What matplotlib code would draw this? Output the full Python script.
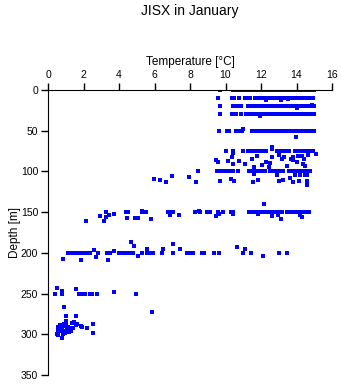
import numpy as np
import matplotlib
matplotlib.use('Agg')
import matplotlib.pyplot as plt

plt.rcParams['font.family'] = ['Liberation Sans', 'DejaVu Sans']

# temperatures (degC) observed at the standard depths (m)
t_0m = [9.7, 10.45, 10.55, 10.65, 10.75, 10.85, 11.05, 11.2, 11.3, 11.45, 11.6, 11.75, 11.9, 12.05,
        12.2, 12.3, 12.45, 12.6, 12.75, 12.95, 13.1, 13.25, 13.4, 13.55, 13.7, 13.85, 14.0, 14.15,
        14.3, 14.45, 14.6, 14.75, 14.9, 15.0]
t_10m = [9.55, 10.35, 10.5, 10.75, 11.1, 11.25, 11.4, 11.65, 11.8, 11.95, 12.1, 12.25, 12.4, 12.55,
         12.7, 12.85, 13.0, 13.15, 13.3, 13.45, 13.6, 13.75, 13.9, 14.05, 14.2, 14.35, 14.5, 14.65,
         14.8, 14.95]
t_20m = [9.7, 10.4, 10.6, 10.8, 10.9, 11.25, 11.45, 11.65, 11.8, 11.95, 12.1, 12.25, 12.4, 12.55,
         12.75, 12.9, 13.05, 13.2, 13.35, 13.5, 13.65, 13.8, 13.95, 14.1, 14.25, 14.4, 14.55, 14.7,
         14.85, 15.0]
t_30m = [9.7, 10.35, 10.6, 10.85, 11.15, 11.3, 11.5, 11.65, 11.9, 12.05, 12.2, 12.35, 12.5, 12.75,
         12.9, 13.05, 13.2, 13.35, 13.5, 13.65, 13.8, 13.95, 14.1, 14.25, 14.4, 14.55, 14.7, 14.85, 15.0]
t_50m = [9.65, 10.1, 10.2, 10.6, 10.75, 10.95, 11.5, 11.6, 11.75, 11.85, 11.95, 12.05, 12.15, 12.25,
         12.35, 12.5, 12.6, 12.75, 12.9, 13.05, 13.2, 13.35, 13.5, 13.65, 13.8, 13.95, 14.1, 14.25,
         14.4, 14.55, 14.7, 14.85, 15.0]
t_75m = [10.0, 10.45, 11.0, 11.25, 11.45, 11.55, 11.65, 11.75, 11.85, 11.95, 12.05, 12.15, 12.3,
         12.9, 13.05, 13.2, 13.35, 13.6, 13.9, 14.05, 14.2, 14.35, 14.5, 14.65, 14.8, 14.95]
t_100m = [8.47, 9.5, 9.6, 9.8, 9.9, 10.1, 10.2, 10.3, 10.4, 10.7, 11.35, 11.5, 11.65, 11.8, 11.95,
          12.1, 12.25, 12.5, 12.65, 12.8, 12.95, 13.1, 13.25, 13.55, 13.7, 13.85, 14.0, 14.15, 14.3,
          14.45, 14.6, 14.75]
t_150m = [3.29, 4.4, 4.52, 5.3, 5.52, 6.78, 6.9, 7.02, 8.3, 8.56, 8.94, 9.05, 9.13, 9.6, 9.88, 10.3,
          10.44, 11.3, 11.45, 11.6, 11.75, 11.9, 12.05, 12.2, 12.47, 12.6, 12.75, 12.9, 13.05, 13.2,
          13.45, 13.6, 13.75, 13.9, 14.05, 14.2, 14.42, 14.55, 14.7]
t_200m = [1.15, 1.25, 1.39, 1.61, 1.75, 1.9, 2.05, 2.2, 2.37, 2.83, 3.3, 3.49, 4.02, 4.13, 4.24, 4.47,
          4.6, 4.77, 5.31, 5.56, 5.7, 5.85, 5.93, 6.42, 7.06, 7.81, 7.94, 8.19, 8.69, 8.79, 9.37, 9.62,
          11.0, 11.45, 13.0, 13.48]
t_250m = [0.41, 0.81, 1.76, 1.99, 2.1, 2.37, 2.5, 2.78, 4.97]

level_depths = [0, 10, 20, 30, 50, 75, 100, 150, 200, 250]
level_temps = [t_0m, t_10m, t_20m, t_30m, t_50m, t_75m, t_100m, t_150m, t_200m, t_250m]

# off-level observations
extra_temp = [12.3, 13.1, 13.5, 14.0, 14.9, 11.95, 12.2, 11.0, 13.95, 15.1, 12.6,
              10.44, 10.38, 9.48, 9.6, 10.16, 10.78, 11.1, 11.5, 11.75, 11.6, 12.07, 12.26, 12.43,
              12.5, 12.64, 13.0, 13.3, 13.45, 13.82, 13.82, 14.05, 14.1, 14.3, 14.42, 14.38, 14.67,
              13.16, 14.46, 12.62, 12.19, 10.4, 10.76, 9.46, 13.7,
              7.96, 8.32, 9.69, 10.29, 10.5, 11.57, 11.81, 11.62, 12.99, 13.26, 13.63, 13.82, 14.16,
              14.57, 14.6, 13.9, 12.88, 14.57, 5.99, 6.29, 6.63, 7.0, 14.2, 14.5,
              2.16, 2.95, 3.17, 3.29, 3.46, 3.72, 4.45, 4.9, 5.05, 5.3, 5.8, 6.87, 7.4, 8.52, 9.46,
              9.65, 10.4, 11.85, 12.64, 12.94, 13.15, 14.2, 14.31,
              0.86, 1.84, 2.61, 2.7, 3.4, 3.72, 4.68, 4.86, 5.09, 5.6, 6.46, 7.06, 7.44, 10.67, 11.08,
              12.13,
              0.52, 0.81, 1.6, 3.74, 0.92, 5.88, 1.03, 1.6,
              0.55, 0.58, 0.68, 0.71, 0.8, 0.92, 1.03, 1.03, 1.03, 1.15, 1.25, 1.37, 1.45, 1.65, 1.84,
              1.9, 2.22, 2.52, 2.55, 0.52, 0.55, 0.81, 0.86, 0.94, 1.0, 1.2, 1.31, 1.06, 0.8, 1.43,
              1.6, 1.1, 0.95]
extra_depth = [12, 12.5, 11.5, 22, 19, 31.5, 29, 48, 58, 79, 73,
               77, 82.7, 86.4, 88.6, 87.6, 87.6, 91, 84.3, 81.5, 94, 92.5, 88.8, 94,
               90, 82, 79.4, 82, 93.3, 82.7, 86, 88.4, 81, 81, 85, 91, 79.8,
               84.3, 93.3, 70.4, 140, 91, 87, 86, 85,
               106.4, 112.6, 111.8, 109.7, 112, 113.3, 110.5, 102.8, 112, 110.5, 108, 113, 111.4,
               111.4, 117, 104.4, 104.4, 104.4, 109.7, 110.5, 112.6, 105.6, 104.4, 104,
               160.5, 154.3, 160.5, 156.4, 153.9, 152.6, 157.4, 157.4, 157.4, 149, 158.5, 154, 154,
               148.6, 154.4, 152, 152.5, 152.3, 155, 153, 158.4, 153.5, 156.4,
               208, 209, 196.5, 204.7, 208.4, 197.4, 186.6, 191.6, 203.5, 195.6, 195.3, 189.6, 195.6,
               192.4, 195.3, 204,
               243.6, 246.4, 244.4, 248.5, 266, 272.6, 278, 278,
               291.5, 294.7, 288.6, 296, 291, 287.7, 283.6, 286.5, 290, 290.6, 292, 286.6, 285.5,
               287.4, 289.4, 290.5, 292.7, 287.4, 298, 300, 301, 305, 300, 296.8, 295.5, 297.6,
               295.6, 294.6, 294.7, 292, 288, 293, 299]

temp = []
depth = []
for d, ts in zip(level_depths, level_temps):
    temp += ts
    depth += [d] * len(ts)
temp += extra_temp
depth += extra_depth

fig = plt.figure(figsize=(3.41, 3.84), dpi=100)
ax = fig.add_axes([48/341, 9/384, 284/341, 285/384])

ax.scatter(temp, depth, marker='s', s=5, color='#0000ff', linewidths=0)

ax.set_xlim(0, 16)
ax.set_ylim(350, 0)
ax.set_xticks(np.arange(0, 17, 2))
ax.set_yticks(np.arange(0, 351, 50))
ax.xaxis.tick_top()
ax.xaxis.set_label_position('top')
ax.spines['right'].set_visible(False)
ax.spines['bottom'].set_visible(False)
ax.tick_params(direction='out', length=5, width=1, labelsize=7.5, pad=2)
ax.set_xlabel('Temperature [°C]', fontsize=8.5, labelpad=4)
ax.set_ylabel('Depth [m]', fontsize=8.5, labelpad=0)

fig.text(190/341, 1 - 11/384, 'JISX in January', ha='center', va='center', fontsize=10)

fig.savefig('out.png', dpi=100)
